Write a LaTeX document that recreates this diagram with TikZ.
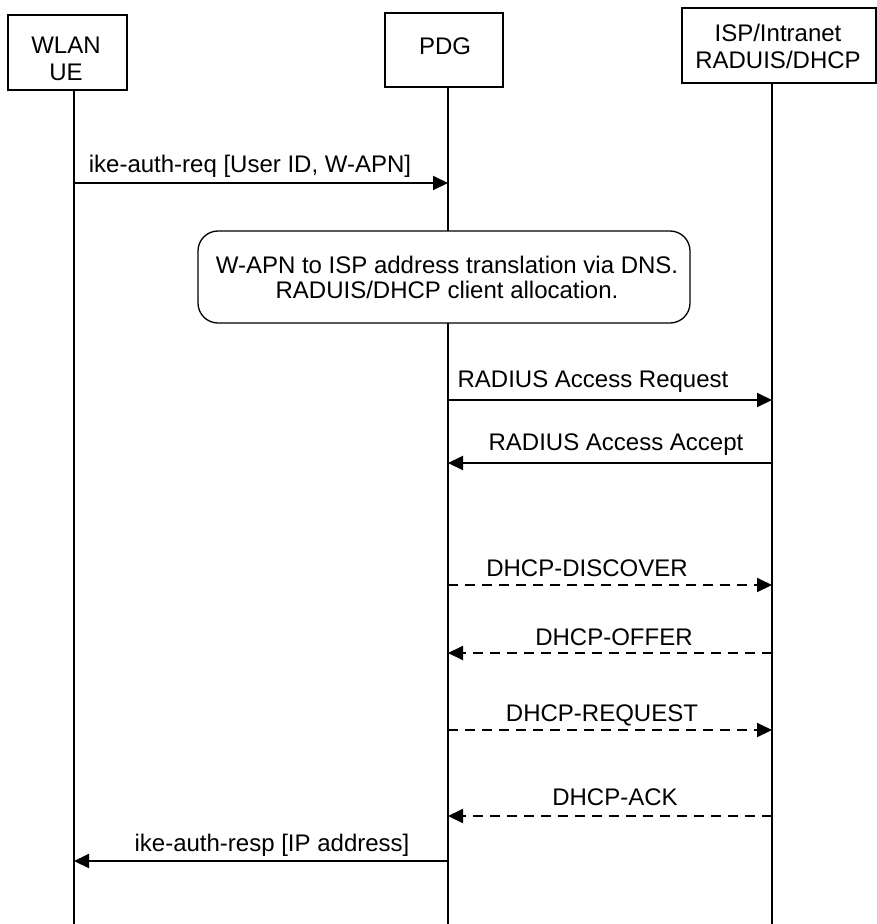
\documentclass[tikz,border=0pt]{standalone}
\usepackage{fontspec}
\setmainfont{Liberation Sans}
\usetikzlibrary{arrows.meta}
\begin{document}
\begin{tikzpicture}[x=1pt,y=-1pt,
  box/.style={draw,line width=1.3pt,fill=white,inner sep=0pt},
  life/.style={line width=1.5pt},
  msg/.style={line width=2pt,-{Triangle[length=15pt,width=14pt]}},
  dmsg/.style={msg,dash pattern=on 10pt off 7pt},
  lbl/.style={anchor=base,inner sep=0pt,font=\fontsize{24}{27}\selectfont},
  notelbl/.style={anchor=base,inner sep=0pt,align=center,font=\fontsize{24}{25}\selectfont}]
\useasboundingbox (0,0) rectangle (877,924);
% lifeline coordinates
\coordinate (ueTop) at (74,90);   \coordinate (ueBot) at (74,924);
\coordinate (pdgTop) at (448,87); \coordinate (pdgBot) at (448,924);
\coordinate (ispTop) at (772,83); \coordinate (ispBot) at (772,924);
\draw[life] (ueTop) -- (ueBot);
\draw[life] (pdgTop) -- (pdgBot);
\draw[life] (ispTop) -- (ispBot);
% header boxes
\node[box,minimum width=119pt,minimum height=75pt] (ue) at (67.5,52.5) {};
\node[lbl,align=center] (uetext) at (66,80.5) {WLAN\\UE};
\node[box,minimum width=118pt,minimum height=74pt] (pdg) at (444,50) {};
\node[lbl] (pdgtext) at (445,54.5) {PDG};
\node[box,minimum width=194pt,minimum height=75pt] (isp) at (779,45.5) {};
\node[lbl,align=center] (isptext) at (778,68.5) {ISP/Intranet\\RADUIS/DHCP};
% note box
\node[box,rounded corners=20pt,minimum width=492pt,minimum height=92pt] (note) at (444,277) {};
\node[notelbl] (notetext) at (447,298.5) {W-APN to ISP address translation via DNS.\\RADUIS/DHCP client allocation.};
% message coordinates
\coordinate (m1a) at (74,183);  \coordinate (m1b) at (448,183);
\coordinate (m2a) at (448,400); \coordinate (m2b) at (772,400);
\coordinate (m3a) at (772,463); \coordinate (m3b) at (448,463);
\coordinate (m4a) at (448,585); \coordinate (m4b) at (772,585);
\coordinate (m5a) at (772,653); \coordinate (m5b) at (448,653);
\coordinate (m6a) at (448,730); \coordinate (m6b) at (772,730);
\coordinate (m7a) at (772,816); \coordinate (m7b) at (448,816);
\coordinate (m8a) at (448,861); \coordinate (m8b) at (74,861);
\draw[msg] (m1a) -- (m1b);
\draw[msg] (m2a) -- (m2b);
\draw[msg] (m3a) -- (m3b);
\draw[dmsg] (m4a) -- (m4b);
\draw[dmsg] (m5a) -- (m5b);
\draw[dmsg] (m6a) -- (m6b);
\draw[dmsg] (m7a) -- (m7b);
\draw[msg] (m8a) -- (m8b);
% labels
\node[lbl] (l1) at (250,172) {ike-auth-req [User ID, W-APN]};
\node[lbl] (l2) at (593,387) {RADIUS Access Request};
\node[lbl] (l3) at (616,450) {RADIUS Access Accept};
\node[lbl] (l4) at (587,576) {DHCP-DISCOVER};
\node[lbl] (l5) at (614,645) {DHCP-OFFER};
\node[lbl] (l6) at (602,721) {DHCP-REQUEST};
\node[lbl] (l7) at (615,805) {DHCP-ACK};
\node[lbl] (l8) at (272,851) {ike-auth-resp [IP address]};
\end{tikzpicture}
\end{document}
